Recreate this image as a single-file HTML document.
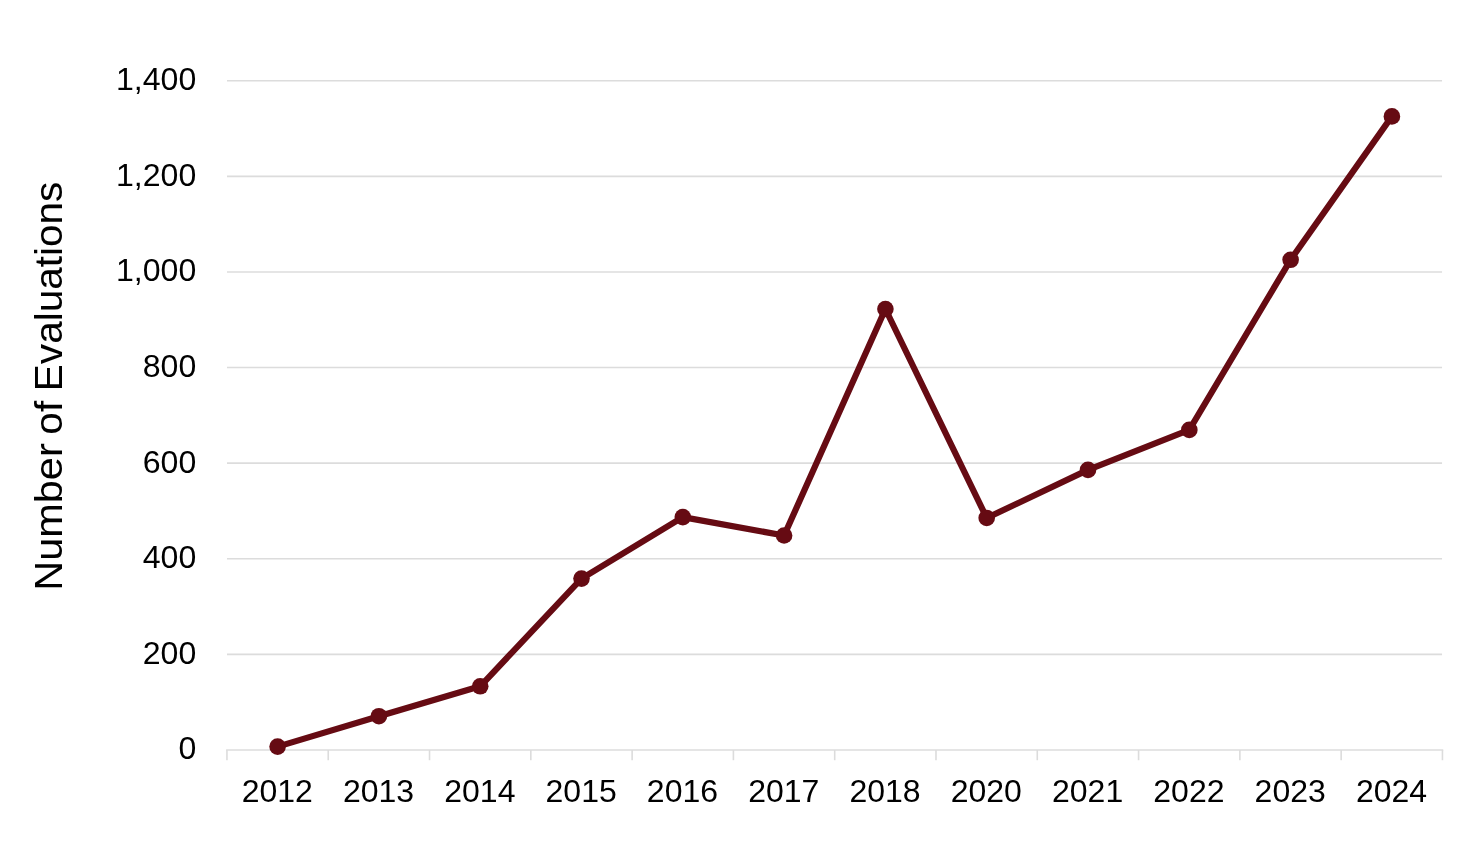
<!DOCTYPE html>
<html lang="en"><head><meta charset="utf-8"><title>Number of Evaluations</title>
<style>
html,body{margin:0;padding:0;background:#fff;}
body{width:1466px;height:842px;overflow:hidden;}
svg{display:block;will-change:transform;}
text{font-family:"Liberation Sans",sans-serif;fill:#000;}
</style></head><body>
<svg role="img" aria-label="Number of Evaluations by year" width="1466" height="842" viewBox="0 0 1466 842">
<rect width="1466" height="842" fill="#fff"/>

<g stroke="#dcdcdc" stroke-width="1.6" fill="none">
<line x1="226.15" y1="749.95" x2="1443.25" y2="749.95"/>
<line x1="227.00" y1="654.35" x2="1442.05" y2="654.35"/>
<line x1="227.00" y1="558.75" x2="1442.05" y2="558.75"/>
<line x1="227.00" y1="463.15" x2="1442.05" y2="463.15"/>
<line x1="227.00" y1="367.56" x2="1442.05" y2="367.56"/>
<line x1="227.00" y1="271.96" x2="1442.05" y2="271.96"/>
<line x1="227.00" y1="176.36" x2="1442.05" y2="176.36"/>
<line x1="227.00" y1="80.76" x2="1442.05" y2="80.76"/>
<line x1="226.95" y1="749.95" x2="226.95" y2="760.25"/>
<line x1="328.24" y1="749.95" x2="328.24" y2="760.25"/>
<line x1="429.53" y1="749.95" x2="429.53" y2="760.25"/>
<line x1="530.83" y1="749.95" x2="530.83" y2="760.25"/>
<line x1="632.12" y1="749.95" x2="632.12" y2="760.25"/>
<line x1="733.41" y1="749.95" x2="733.41" y2="760.25"/>
<line x1="834.70" y1="749.95" x2="834.70" y2="760.25"/>
<line x1="935.99" y1="749.95" x2="935.99" y2="760.25"/>
<line x1="1037.28" y1="749.95" x2="1037.28" y2="760.25"/>
<line x1="1138.58" y1="749.95" x2="1138.58" y2="760.25"/>
<line x1="1239.87" y1="749.95" x2="1239.87" y2="760.25"/>
<line x1="1341.16" y1="749.95" x2="1341.16" y2="760.25"/>
<line x1="1442.45" y1="749.95" x2="1442.45" y2="760.25"/>
</g>
<g font-size="30.5" text-anchor="end">
<text transform="translate(196.3,759.45) scale(1.052,1)">0</text>
<text transform="translate(196.3,663.85) scale(1.052,1)">200</text>
<text transform="translate(196.3,568.25) scale(1.052,1)">400</text>
<text transform="translate(196.3,472.65) scale(1.052,1)">600</text>
<text transform="translate(196.3,377.06) scale(1.052,1)">800</text>
<text transform="translate(196.3,281.46) scale(1.052,1)">1,000</text>
<text transform="translate(196.3,185.86) scale(1.052,1)">1,200</text>
<text transform="translate(196.3,90.26) scale(1.052,1)">1,400</text>
</g>
<g font-size="30.5" text-anchor="middle">
<text transform="translate(277.30,802) scale(1.049,1)">2012</text>
<text transform="translate(378.59,802) scale(1.049,1)">2013</text>
<text transform="translate(479.88,802) scale(1.049,1)">2014</text>
<text transform="translate(581.17,802) scale(1.049,1)">2015</text>
<text transform="translate(682.46,802) scale(1.049,1)">2016</text>
<text transform="translate(783.75,802) scale(1.049,1)">2017</text>
<text transform="translate(885.05,802) scale(1.049,1)">2018</text>
<text transform="translate(986.34,802) scale(1.049,1)">2020</text>
<text transform="translate(1087.63,802) scale(1.049,1)">2021</text>
<text transform="translate(1188.92,802) scale(1.049,1)">2022</text>
<text transform="translate(1290.21,802) scale(1.049,1)">2023</text>
<text transform="translate(1391.50,802) scale(1.049,1)">2024</text>
</g>
<g font-size="39">
<text transform="translate(62,590.8) rotate(-90) scale(1.0638,1)">Number</text>
<text transform="translate(62,434.66) rotate(-90) scale(1.04,1)">of</text>
<text transform="translate(62,391.17) rotate(-90) scale(1.0395,1)">Evaluations</text>
</g>
<polyline fill="none" stroke="#660b13" stroke-width="6.2" stroke-linejoin="round" stroke-linecap="round" points="277.61,746.60 378.91,716.20 480.21,686.30 581.51,578.60 682.81,517.10 784.11,535.50 885.41,309.00 986.71,517.95 1088.01,469.90 1189.31,429.90 1290.61,259.80 1391.91,116.40"/>
<g fill="#660b13">
<circle cx="277.61" cy="746.60" r="8.3"/>
<circle cx="378.91" cy="716.20" r="8.3"/>
<circle cx="480.21" cy="686.30" r="8.3"/>
<circle cx="581.51" cy="578.60" r="8.3"/>
<circle cx="682.81" cy="517.10" r="8.3"/>
<circle cx="784.11" cy="535.50" r="8.3"/>
<circle cx="885.41" cy="309.00" r="8.3"/>
<circle cx="986.71" cy="517.95" r="8.3"/>
<circle cx="1088.01" cy="469.90" r="8.3"/>
<circle cx="1189.31" cy="429.90" r="8.3"/>
<circle cx="1290.61" cy="259.80" r="8.3"/>
<circle cx="1391.91" cy="116.40" r="8.3"/>
</g>
</svg></body></html>
